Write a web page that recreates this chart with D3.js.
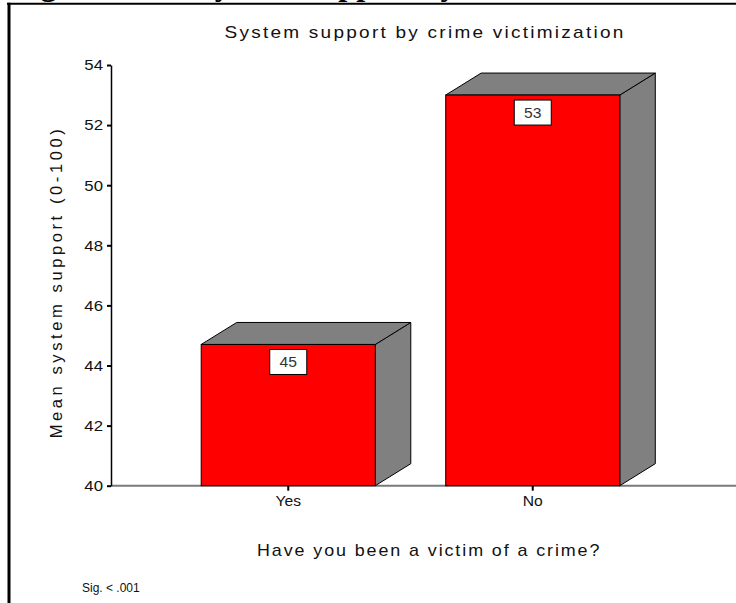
<!DOCTYPE html>
<html>
<head>
<meta charset="utf-8">
<script src="https://cdn.jsdelivr.net/npm/d3@7"></script>
<style>
  html, body { margin: 0; padding: 0; background: #fff; }
  svg { display: block; font-family: Arial, "Liberation Sans", sans-serif; }
</style>
</head>
<body>
<svg id="chart" width="736" height="603"></svg>
<script>
// Mean system support (0-100) by crime victimization
const categories = ["Yes", "No"];
const meanSupport = [44.7, 53.0];
const yTickValues = [40, 42, 44, 46, 48, 50, 52, 54];

const svg = d3.select("#chart");
const W = 736, H = 603;
const WIDEN = 1.12; // horizontal glyph widening used for the chart's labels

// Caption running above the frame (only its lower edge shows)
const caption = svg.append("text")
  .attr("y", -5)
  .attr("font-family", "'Liberation Serif', 'Times New Roman', serif")
  .attr("font-weight", "bold")
  .attr("font-size", 32)
  .attr("fill", "#000");
caption.append("tspan").attr("x", 12).text("Figure 1.");
caption.append("tspan").attr("x", 197).text("System Support by Crime Victimization");

// Frame: top and left rules
svg.append("line").attr("x1", 7).attr("x2", W).attr("y1", 3.7).attr("y2", 3.7)
  .attr("stroke", "#000").attr("stroke-width", 2);
svg.append("line").attr("x1", 9).attr("x2", 9).attr("y1", 2.7).attr("y2", H)
  .attr("stroke", "#000").attr("stroke-width", 3);

// Scales
const y = d3.scaleLinear().domain([40, 54]).range([485.7, 65]);
const x = d3.scaleBand().domain(categories).range([166, 655])
  .paddingInner(0.288).paddingOuter(0.144);

const depthX = 35.5, depthY = -22;

// Helper: a horizontally widened text label anchored at (px, py)
function wideText(parent, px, py, str, size, spacing, anchor) {
  return parent.append("text")
    .attr("transform", `translate(${px},${py}) scale(${WIDEN},1)`)
    .attr("text-anchor", anchor || "start")
    .attr("font-size", size)
    .attr("letter-spacing", spacing)
    .attr("fill", "#111")
    .text(str);
}

// Chart title
wideText(svg, 425, 38, "System support by crime victimization", 17, 2.0, "middle");

// X baseline
svg.append("line")
  .attr("x1", 111).attr("x2", W)
  .attr("y1", y(40)).attr("y2", y(40))
  .attr("stroke", "#7a7a7a").attr("stroke-width", 2);

// Bars with a 3D box look
const data = categories.map((c, i) => ({ cat: c, value: meanSupport[i] }));
const bars = svg.append("g").selectAll("g.bar").data(data).join("g").attr("class", "bar");

bars.each(function(d) {
  const g = d3.select(this);
  const x0 = x(d.cat), x1 = x(d.cat) + x.bandwidth();
  const top = y(d.value), base = y(40);
  // side face
  g.append("path")
    .attr("d", d3.line()([[x1, top], [x1 + depthX, top + depthY], [x1 + depthX, base + depthY], [x1, base]]) + "Z")
    .attr("fill", "#808080").attr("stroke", "#000").attr("stroke-width", 1)
    .attr("stroke-linejoin", "round");
  // top face
  g.append("path")
    .attr("d", d3.line()([[x0, top], [x0 + depthX, top + depthY], [x1 + depthX, top + depthY], [x1, top]]) + "Z")
    .attr("fill", "#808080").attr("stroke", "#000").attr("stroke-width", 1)
    .attr("stroke-linejoin", "round");
  // front face
  g.append("rect")
    .attr("x", x0).attr("y", top)
    .attr("width", x.bandwidth()).attr("height", base - top)
    .attr("fill", "#ff0000").attr("stroke", "#000").attr("stroke-width", 1);
  // value label box
  const cx = x0 + x.bandwidth() / 2;
  g.append("rect")
    .attr("x", cx - 18.5).attr("y", top + 5)
    .attr("width", 37).attr("height", 25)
    .attr("fill", "#fff").attr("stroke", "#000").attr("stroke-width", 1);
  wideText(g, cx, top + 22.5, d3.format(".0f")(d.value), 14, 0, "middle").attr("fill", "#333");
});

// Y axis
const yAxis = svg.append("g")
  .attr("transform", "translate(111,0)")
  .call(d3.axisLeft(y).tickValues(yTickValues).tickSize(4).tickSizeOuter(0).tickPadding(3).tickFormat(d3.format("d")));
yAxis.select(".domain").attr("stroke", "#000").attr("stroke-width", 1.5);
yAxis.selectAll(".tick line").attr("stroke", "#000").attr("stroke-width", 2);
yAxis.selectAll(".tick text")
  .attr("font-family", "Arial, 'Liberation Sans', sans-serif")
  .attr("font-size", 15).attr("fill", "#111")
  .attr("transform", `scale(${WIDEN},1)`)
  .attr("x", -8 / WIDEN);

// X axis ticks and labels
const xAxis = svg.append("g")
  .attr("transform", `translate(0,${y(40)})`)
  .call(d3.axisBottom(x).tickSize(5).tickSizeOuter(0).tickPadding(5));
xAxis.select(".domain").remove();
xAxis.selectAll(".tick line").attr("stroke", "#000").attr("stroke-width", 2);
xAxis.selectAll(".tick text")
  .attr("font-family", "Arial, 'Liberation Sans', sans-serif")
  .attr("font-size", 14).attr("fill", "#111")
  .attr("transform", `scale(${WIDEN},1)`);

// Axis titles
svg.append("text")
  .attr("transform", "translate(62,282) rotate(-90)")
  .attr("text-anchor", "middle")
  .attr("font-size", 16.5)
  .attr("letter-spacing", 3.6)
  .attr("fill", "#111")
  .text("Mean system support  (0-100)");

wideText(svg, 257, 556, "Have you been a victim of a crime?", 16, 1.7, "start");

// Significance note
svg.append("text")
  .attr("x", 82).attr("y", 592)
  .attr("font-size", 12)
  .attr("fill", "#111")
  .text("Sig. < .001");
</script>
</body>
</html>
